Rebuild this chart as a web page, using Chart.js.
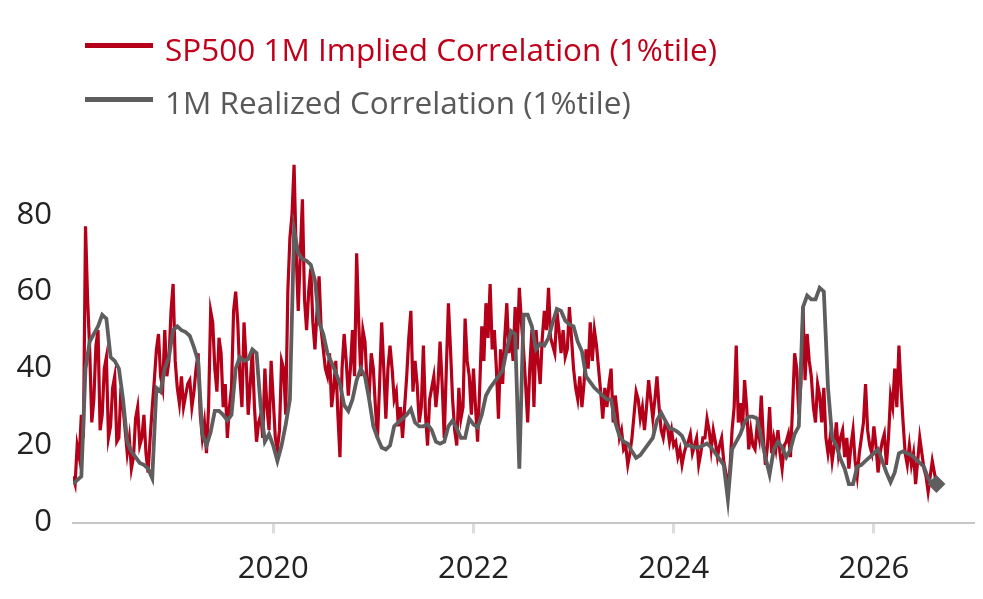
<!DOCTYPE html>
<html lang="en">
<head>
    <meta charset="UTF-8">
    <title>Implied vs Realized Correlation</title>
    <script src="https://cdn.jsdelivr.net/npm/chart.js@4.4.1/dist/chart.umd.min.js"></script>
    <style>
        * { margin: 0; padding: 0; box-sizing: border-box; }

        body {
            background: #fff;
            width: 983px;
            height: 599px;
            overflow: hidden;
            font-family: 'Open Sans', sans-serif;
        }

        #wrap {
            position: relative;
            width: 983px;
            height: 599px;
        }

        /* legend, placed by hand over the canvas */
        .leg-line {
            position: absolute;
            left: 85px;
            width: 68px;
            height: 5px;
        }

        .leg-text {
            position: absolute;
            left: 165px;
            font-size: 31.5px;
            line-height: 32px;
            white-space: nowrap;
        }
    </style>
</head>

<body>
    <div id="wrap">
        <div class="leg-line" style="top:43px;background:#b5001a"></div>
        <div class="leg-text" style="top:33px;color:#c0001b">SP500 1M Implied Correlation (1%tile)</div>
        <div class="leg-line" style="top:96.5px;background:#5e5e5e"></div>
        <div class="leg-text" style="top:86px;color:#595959">1M Realized Correlation (1%tile)</div>
        <canvas id="chart"></canvas>
    </div>

    <script>
        // both series start Jan 2018; implied is weekly, realized semi-monthly
        const startYear = 2018;
        const impliedPerYear = 48;
        const realizedPerYear = 24;

        const implied = [
            12, 10, 20, 17, 28, 22, 77, 58, 45, 26,
            32, 46, 50, 24, 28, 40, 43, 22, 25, 35,
            38, 21, 22, 35, 30, 24, 18, 22, 14, 17,
            27, 30, 20, 22, 28, 18, 13, 22, 30, 37,
            45, 49, 38, 35, 50, 38, 42, 55, 62, 42,
            35, 31, 38, 30, 33, 36, 37, 30, 34, 40,
            44, 28, 22, 26, 18, 30, 55, 52, 40, 34,
            48, 44, 30, 36, 22, 30, 35, 55, 60, 52,
            38, 30, 52, 42, 28, 36, 45, 30, 21, 26,
            28, 22, 40, 30, 24, 42, 32, 22, 19, 24,
            42, 40, 28, 60, 74, 80, 93, 70, 55, 70,
            84, 58, 50, 60, 66, 52, 45, 55, 64, 50,
            45, 40, 38, 44, 30, 35, 42, 28, 17, 40,
            49, 42, 33, 40, 50, 38, 70, 52, 38, 50,
            47, 36, 33, 44, 40, 30, 22, 36, 52, 40,
            27, 40, 46, 40, 32, 34, 25, 30, 22, 30,
            38, 48, 55, 34, 42, 36, 26, 30, 46, 28,
            20, 32, 35, 38, 30, 36, 47, 36, 22, 40,
            57, 45, 32, 24, 20, 35, 27, 30, 53, 42,
            38, 28, 40, 30, 21, 35, 51, 42, 57, 48,
            62, 45, 50, 40, 27, 45, 36, 48, 57, 44,
            50, 42, 56, 45, 61, 52, 45, 36, 26, 40,
            50, 30, 50, 42, 36, 48, 55, 50, 61, 48,
            46, 44, 55, 50, 44, 50, 43, 45, 56, 48,
            40, 35, 32, 38, 30, 36, 45, 40, 52, 42,
            50, 46, 40, 34, 27, 35, 30, 36, 40, 26,
            33, 28, 22, 24, 19, 20, 15, 18, 22, 28,
            34, 32, 27, 30, 24, 30, 37, 32, 27, 32,
            38, 30, 24, 22, 26, 25, 21, 24, 20, 21,
            17, 19, 15, 18, 20, 21, 23, 18, 20, 22,
            15, 18, 22, 22, 27, 24, 19, 24, 21, 17,
            20, 22, 16, 13, 9, 14, 24, 30, 46, 26,
            31, 24, 37, 30, 19, 24, 20, 19, 25, 22,
            33, 22, 15, 20, 30, 18, 22, 19, 24, 18,
            14, 20, 21, 23, 17, 30, 44, 40, 28, 36,
            56, 37, 49, 42, 38, 30, 26, 36, 33, 26,
            35, 22, 18, 22, 16, 20, 26, 18, 22, 24,
            17, 22, 14, 20, 24, 16, 12, 18, 22, 26,
            36, 24, 20, 18, 25, 20, 13, 18, 21, 23,
            15, 22, 33, 30, 40, 30, 46, 35, 26, 18,
            15, 20, 15, 18, 10, 16, 22, 18, 14, 12,
            8, 12, 16, 13, 10, 10, 9
        ];

        const realized = [
            10, 11, 12, 40, 47, 49, 51, 54, 53, 43,
            42, 40, 32, 21, 18.5, 17, 15.5, 15, 14, 11.5,
            35, 34, 40, 43, 50, 51, 50, 49.5, 48.5, 45.5,
            42, 23, 20, 23.5, 29, 29, 28, 26.5,
            28, 40, 43, 42, 42.5, 45, 44, 30, 21, 23,
            20, 16, 20, 25.5, 32, 76, 70, 68.5, 68, 67,
            63, 52, 49, 44, 41.5, 39, 36, 30.5, 29, 32,
            37, 40, 38, 32, 25, 22, 19.5,
            19, 20, 25, 26, 27, 28, 29.5, 26, 25, 25,
            25.5, 24, 21, 20.5, 21, 25, 26.5, 24.5, 22, 22,
            27, 25.5, 24.7, 28, 33, 35, 36.5, 38, 39.5, 45,
            49.8, 49, 14, 54, 54, 51,
            45, 46.5, 46, 48, 52, 55.5, 55, 52.5, 51.5, 51,
            47, 44.5, 38, 36.5, 35, 34, 33, 32, 32, 26,
            22.5, 21, 20.5, 18.5, 16.8, 17.5, 19, 20.5, 22, 26.5,
            28.5, 26.5, 24.5, 24.2, 23.5, 22.5,
            20, 20, 19.5, 19.5, 20, 20.5, 19.5, 18, 16.5, 15,
            6, 19, 21, 23, 26, 27.5, 27.5, 27, 22, 17,
            12.5, 19, 21, 19.5, 17, 19, 23, 25, 56, 59,
            58, 58, 61, 60, 35, 22, 20,
            16.5, 14, 10, 10, 14.5, 15, 16, 17, 18, 19,
            16, 13, 10.5, 13, 18, 18.5, 18, 17.5, 16.5, 15.5,
            14.5, 11.5, 10, 10
        ];

        const xTicks = [2020, 2022, 2024, 2026];
        const yTicks = [0, 20, 40, 60, 80];

        function toPoints(values, perYear) {
            return values.map((v, i) => ({ x: startYear + i / perYear, y: v }));
        }

        const lastReal = realized.length - 1;

        const canvas = document.getElementById('chart');
        canvas.width = 983;
        canvas.height = 599;

        new Chart(canvas, {
            type: 'line',
            data: {
                datasets: [
                    {
                        label: 'SP500 1M Implied Correlation (1%tile)',
                        data: toPoints(implied, impliedPerYear),
                        borderColor: '#b5001a',
                        borderWidth: 3.2,
                        borderJoinStyle: 'miter',
                        pointRadius: 0,
                        tension: 0,
                        order: 2
                    },
                    {
                        label: '1M Realized Correlation (1%tile)',
                        data: toPoints(realized, realizedPerYear),
                        borderColor: '#5e5e5e',
                        backgroundColor: '#5e5e5e',
                        borderWidth: 3.8,
                        pointStyle: 'rectRot',
                        pointRadius: ctx => ctx.dataIndex === lastReal ? 9 : 0,
                        pointBorderWidth: 0,
                        tension: 0,
                        order: 1
                    }
                ]
            },
            options: {
                responsive: false,
                animation: false,
                layout: { padding: { top: 157, right: 0, left: 0, bottom: 0 } },
                plugins: {
                    legend: { display: false },
                    tooltip: { enabled: false }
                },
                scales: {
                    x: {
                        type: 'linear',
                        min: 2018,
                        max: 2027,
                        afterBuildTicks: s => { s.ticks = xTicks.map(v => ({ value: v })); },
                        afterFit: s => { s.height = 76.5; },
                        border: { display: true, color: '#c6c6c6', width: 2 },
                        grid: {
                            display: true,
                            drawOnChartArea: false,
                            drawTicks: true,
                            tickLength: 11,
                            tickWidth: 3,
                            tickColor: '#dcdcdc'
                        },
                        ticks: {
                            color: '#222',
                            padding: 17,
                            maxRotation: 0,
                            font: { family: 'Open Sans', size: 31 },
                            callback: v => String(v)
                        }
                    },
                    y: {
                        min: 0,
                        max: 95,
                        afterBuildTicks: s => { s.ticks = yTicks.map(v => ({ value: v })); },
                        afterFit: s => { s.width = 73; },
                        border: { display: false },
                        grid: { display: false },
                        ticks: {
                            color: '#222',
                            padding: 13,
                            font: { family: 'Open Sans', size: 31 }
                        }
                    }
                }
            }
        });
    </script>
</body>

</html>
